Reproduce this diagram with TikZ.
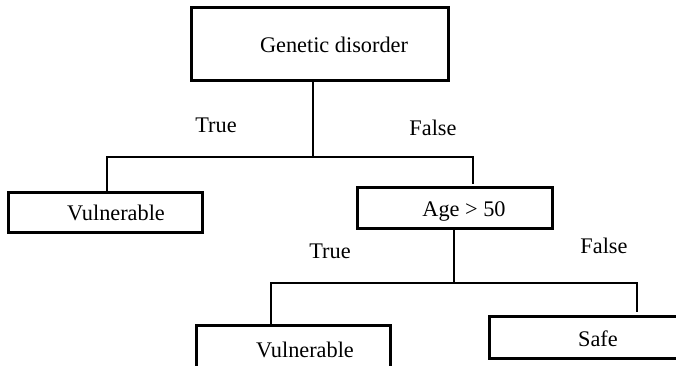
\documentclass[tikz,border=0pt]{standalone}
\usepackage{fontspec}
\setmainfont{Liberation Serif}

\begin{document}
\begin{tikzpicture}[x=1pt,y=-1pt,
  boite/.style={draw,line width=3pt,inner sep=0pt},
  trait/.style={line width=1.3pt},
  txt/.style={inner sep=0pt,font=\fontsize{22.3}{26}\selectfont}]
\useasboundingbox (0,0) rectangle (676,365);
\clip (0,0) rectangle (676,365);

\node[boite,minimum width=257pt,minimum height=73pt] (racine) at (319.5,43.5) {};%les boites
\node[boite,minimum width=194pt,minimum height=40pt] (vul1) at (105,212) {};
\node[boite,minimum width=195pt,minimum height=41pt] (age) at (454.5,207.5) {};
\node[boite,minimum width=194pt,minimum height=42pt] (vul2) at (293,346) {};
\node[boite,minimum width=201pt,minimum height=42pt] (safe) at (589.5,337) {};

\node[txt] (tracine) at (334,45) {Genetic disorder};
\node[txt] (tvul1) at (116,213) {Vulnerable};
\node[txt] (tage) at (464,211) {Age > 50};
\node[txt] (tvul2) at (305,350) {Vulnerable};
\node[txt] (tsafe) at (598,339) {Safe};

\coordinate (j1) at (313,157);%les branches
\coordinate (t1) at (107,157);
\coordinate (f1) at (473,157);
\coordinate (j2) at (454,283);
\coordinate (t2) at (271,283);
\coordinate (f2) at (637,283);

\draw[trait] (racine.south -| j1) -- (j1);
\draw[trait] ([yshift=-1.5pt]vul1.north -| t1) -- (t1) -- (f1) -- ([yshift=2pt]age.north -| f1);
\draw[trait] (age.south -| j2) -- (j2);
\draw[trait] ([yshift=-1.5pt]vul2.north -| t2) -- (t2) -- (f2) -- ([yshift=3pt]safe.north -| f2);

\node[txt] (vrai1) at (216,125) {True};
\node[txt] (faux1) at (433,128) {False};
\node[txt] (vrai2) at (330,251) {True};
\node[txt] (faux2) at (604,246) {False};

\end{tikzpicture}
\end{document}
